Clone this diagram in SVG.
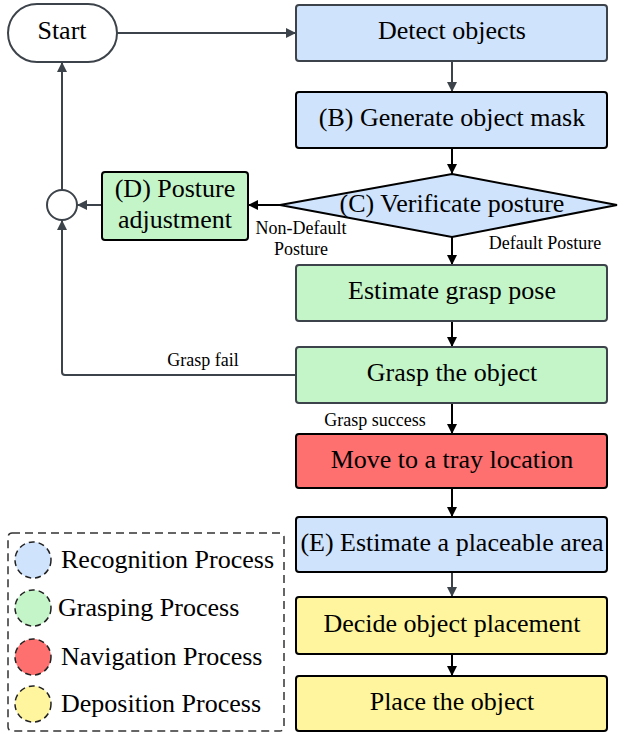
<svg xmlns="http://www.w3.org/2000/svg" width="620" height="733" viewBox="0 0 620 733">
<defs>
<style>
text{font-family:"Liberation Serif","Times New Roman",serif;fill:#000}
.t{font-size:26px;text-anchor:middle}
.s{font-size:18px;text-anchor:middle}
.lg{font-size:26px}
.box{stroke-width:2}
.blue{fill:#cfe3fc}
.green{fill:#c4f5c8}
.red{fill:#fe6f6f}
.yellow{fill:#fff59e}
.k{stroke:#000}
.g{stroke:#3d434a}
.ln{fill:none;stroke-width:2}
</style>
<marker id="ak" markerUnits="userSpaceOnUse" markerWidth="12" markerHeight="10" refX="10" refY="5" orient="auto"><path d="M0,0 L10,5 L0,10 Z" fill="#000"/></marker>
<marker id="ag" markerUnits="userSpaceOnUse" markerWidth="12" markerHeight="10" refX="10" refY="5" orient="auto"><path d="M0,0 L10,5 L0,10 Z" fill="#3d434a"/></marker>
</defs>
<rect width="620" height="733" fill="#fff"/>
<g id="connectors">
<line class="ln g" x1="117" y1="33" x2="296" y2="33" marker-end="url(#ag)"/>
<line class="ln g" x1="452" y1="61" x2="452" y2="92" marker-end="url(#ag)"/>
<line class="ln k" x1="452" y1="148" x2="452" y2="174" marker-end="url(#ak)"/>
<line class="ln k" x1="280" y1="205" x2="248" y2="205" marker-end="url(#ak)"/>
<line class="ln g" x1="102" y1="205" x2="77" y2="205" marker-end="url(#ag)"/>
<line class="ln g" x1="62" y1="190" x2="62" y2="62" marker-end="url(#ag)"/>
<path class="ln g" d="M296,375 H65 Q62,375 62,372 V220" marker-end="url(#ag)"/>
<line class="ln k" x1="452" y1="237" x2="452" y2="265" marker-end="url(#ak)"/>
<line class="ln k" x1="452" y1="321" x2="452" y2="347" marker-end="url(#ak)"/>
<line class="ln k" x1="452" y1="403" x2="452" y2="434" marker-end="url(#ak)"/>
<line class="ln k" x1="452" y1="488" x2="452" y2="517" marker-end="url(#ak)"/>
<line class="ln g" x1="452" y1="572" x2="452" y2="597" marker-end="url(#ag)"/>
<line class="ln k" x1="452" y1="654" x2="452" y2="676" marker-end="url(#ak)"/>
<text class="s" x="301" y="234">Non-Default</text>
<text class="s" x="301" y="255">Posture</text>
<text class="s" x="545" y="249">Default Posture</text>
<text class="s" x="203" y="366">Grasp fail</text>
<text class="s" x="375" y="426">Grasp success</text>
</g>
<g id="start">
<rect x="8" y="4" width="109" height="58" rx="29" fill="#fff" stroke="#3d434a" stroke-width="2"/>
<text class="t" x="62" y="39">Start</text>
</g>
<g id="detect">
<rect class="box blue g" x="296" y="5" width="311" height="56" rx="3"/>
<text class="t" x="452" y="39">Detect objects</text>
</g>
<g id="mask">
<rect class="box blue k" x="296" y="92" width="311" height="56" rx="3"/>
<text class="t" x="452" y="126">(B) Generate object mask</text>
</g>
<g id="verify">
<polygon class="box blue k" points="452,174 617,205 452,237 280,205"/>
<text class="t" x="452" y="212">(C) Verificate posture</text>
</g>
<g id="posture">
<rect class="box green k" x="102" y="172" width="146" height="68" rx="3"/>
<text class="t" x="175" y="197">(D) Posture</text>
<text class="t" x="175" y="228">adjustment</text>
</g>
<g id="junction">
<circle cx="62" cy="205" r="15" fill="#fff" stroke="#3d434a" stroke-width="2"/>
</g>
<g id="estimate">
<rect class="box green g" x="296" y="265" width="311" height="56" rx="3"/>
<text class="t" x="452" y="299">Estimate grasp pose</text>
</g>
<g id="grasp">
<rect class="box green g" x="296" y="347" width="311" height="56" rx="3"/>
<text class="t" x="452" y="381">Grasp the object</text>
</g>
<g id="move">
<rect class="box red k" x="296" y="434" width="311" height="54" rx="3"/>
<text class="t" x="452" y="468">Move to a tray location</text>
</g>
<g id="area">
<rect class="box blue k" x="296" y="517" width="311" height="55" rx="3"/>
<text class="t" x="452" y="551">(E) Estimate a placeable area</text>
</g>
<g id="decide">
<rect class="box yellow k" x="296" y="597" width="311" height="57" rx="3"/>
<text class="t" x="452" y="632">Decide object placement</text>
</g>
<g id="place">
<rect class="box yellow k" x="296" y="676" width="311" height="55" rx="3"/>
<text class="t" x="452" y="710">Place the object</text>
</g>
<g id="legend">
<rect x="8" y="533" width="276" height="198" rx="4" fill="none" stroke="#333" stroke-width="1.5" stroke-dasharray="8,5"/>
<circle cx="33" cy="560" r="18" fill="#cfe3fc" stroke="#222" stroke-width="1.5" stroke-dasharray="6,4"/>
<text class="lg" x="61" y="568">Recognition Process</text>
<circle cx="33" cy="608" r="18" fill="#c4f5c8" stroke="#222" stroke-width="1.5" stroke-dasharray="6,4"/>
<text class="lg" x="58" y="616">Grasping Process</text>
<circle cx="33" cy="657" r="18" fill="#fe6f6f" stroke="#222" stroke-width="1.5" stroke-dasharray="6,4"/>
<text class="lg" x="61" y="665">Navigation Process</text>
<circle cx="33" cy="704" r="18" fill="#fff59e" stroke="#222" stroke-width="1.5" stroke-dasharray="6,4"/>
<text class="lg" x="61" y="712">Deposition Process</text>
</g>
</svg>
